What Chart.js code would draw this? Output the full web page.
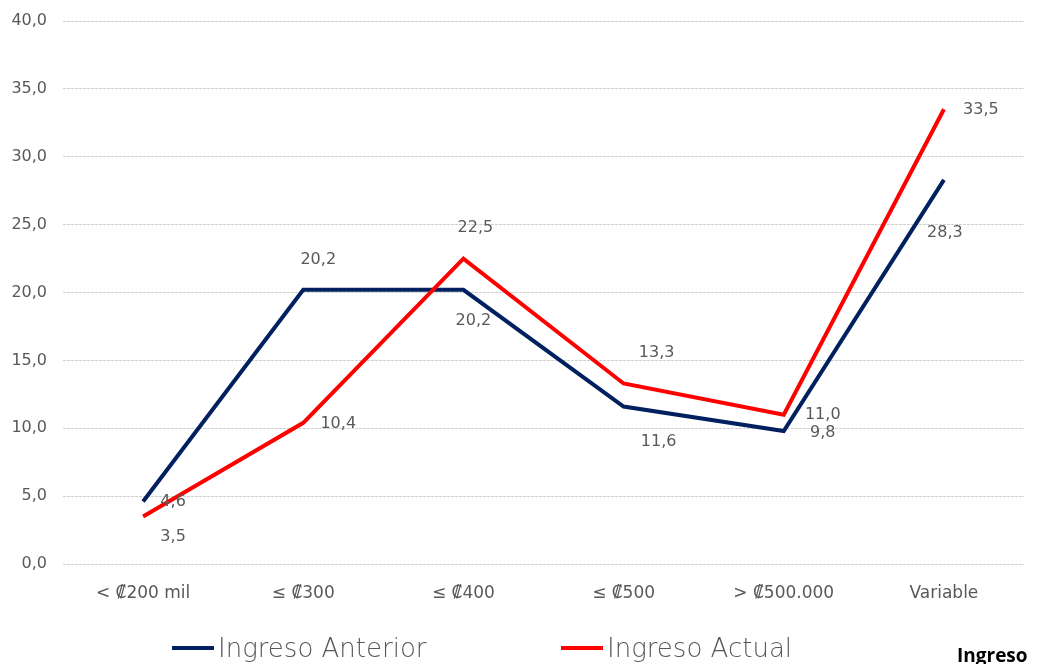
<!DOCTYPE html>
<html>
<head>
<meta charset="utf-8">
<script src="https://cdn.jsdelivr.net/npm/chart.js@4.4.0/dist/chart.umd.min.js"></script>
<style>
  html, body { margin: 0; padding: 0; background: #fff; overflow: hidden; }
  #wrap { position: relative; width: 1037px; height: 664px; }
  #chart { position: absolute; left: 0; top: 0; }
  .legend-item { position: absolute; top: 630px; height: 36px; display: flex; align-items: center;
    font-family: "DejaVu Sans", Lato, sans-serif; font-size: 26px; font-weight: 200; color: #595959; white-space: nowrap; }
  .legend-item span.swatch { display: inline-block; width: 42px; height: 4px; margin-right: 4px; }
  #axis-title { position: absolute; left: 957px; top: 642px; font-family: "Open Sans", Lato, sans-serif;
    font-weight: bold; font-size: 19px; color: #000; }
</style>
</head>
<body>
<div id="wrap">
  <canvas id="chart" width="1037" height="664"></canvas>
  <div class="legend-item" style="left:172px"><span class="swatch" style="background:#002060"></span>Ingreso Anterior</div>
  <div class="legend-item" style="left:561px"><span class="swatch" style="background:#ff0000"></span>Ingreso Actual</div>
  <div id="axis-title">Ingreso</div>
</div>
<script>
const categories = ["< ₡200 mil", "≤ ₡300", "≤ ₡400", "≤ ₡500", "> ₡500.000", "Variable"]
const ingresoAnterior = [4.6, 20.2, 20.2, 11.6, 9.8, 28.3]
const ingresoActual = [3.5, 10.4, 22.5, 13.3, 11.0, 33.5]
const yTicks = [0, 5, 10, 15, 20, 25, 30, 35, 40]

// label offsets from each point, in pixels (Excel-style manual placement)
const anteriorLabelOffsets = [[30, 0], [15, -30], [10, 31], [35, 35], [39, 2], [1, 53]]
const actualLabelOffsets = [[30, 20], [35, 1], [12, -31], [33, -31], [39, 0], [37, 1]]

const fmt = (v) => v.toFixed(1).replace(".", ",")
const gray = "#595959"
const baseFont = "'DejaVu Sans', Lato, sans-serif"

const pointLabels = {
  id: "pointLabels",
  afterDatasetsDraw(chart) {
    const ctx = chart.ctx
    ctx.save()
    ctx.font = "16px " + baseFont
    ctx.fillStyle = gray
    ctx.textAlign = "center"
    ctx.textBaseline = "middle"
    chart.data.datasets.forEach((ds, i) => {
      const meta = chart.getDatasetMeta(i)
      meta.data.forEach((pt, j) => {
        const off = ds.labelOffsets[j]
        ctx.fillText(fmt(ds.data[j]), pt.x + off[0], pt.y + off[1])
      })
    })
    ctx.restore()
  }
}

const ctx = document.querySelector("#chart").getContext("2d")
new Chart(ctx, {
  type: "line",
  data: {
    labels: categories,
    datasets: [{
      label: "Ingreso Anterior",
      data: ingresoAnterior,
      labelOffsets: anteriorLabelOffsets,
      borderColor: "#002060",
      backgroundColor: "#002060",
      borderWidth: 4,
      pointRadius: 0,
      tension: 0,
      order: 2
    },
    {
      label: "Ingreso Actual",
      data: ingresoActual,
      labelOffsets: actualLabelOffsets,
      borderColor: "#ff0000",
      backgroundColor: "#ff0000",
      borderWidth: 4,
      pointRadius: 0,
      tension: 0,
      order: 1
    }]
  },
  options: {
    responsive: false,
    animation: false,
    events: [],
    layout: { padding: { top: 21, right: 13, left: 0, bottom: 0 } },
    plugins: {
      legend: { display: false },
      tooltip: { enabled: false }
    },
    scales: {
      x: {
        offset: true,
        grid: { display: false, drawTicks: false },
        border: { display: false },
        ticks: { color: gray, font: { family: baseFont, size: 17 }, padding: 19, maxRotation: 0 },
        afterFit(scale) { scale.height = 100 }
      },
      y: {
        min: 0,
        max: 40,
        afterBuildTicks(scale) { scale.ticks = yTicks.map(v => ({ value: v })) },
        grid: { color: "#cfcfcf", drawTicks: false, lineWidth: 1 },
        border: { display: false, dash: [3, 1] },
        ticks: { color: gray, font: { family: baseFont, size: 16 }, padding: 16, callback: (v) => fmt(v) },
        afterFit(scale) {
          scale.width = 63
          scale.paddingTop = 0
          scale.paddingBottom = 0
        }
      }
    }
  },
  plugins: [pointLabels]
})
</script>
</body>
</html>
